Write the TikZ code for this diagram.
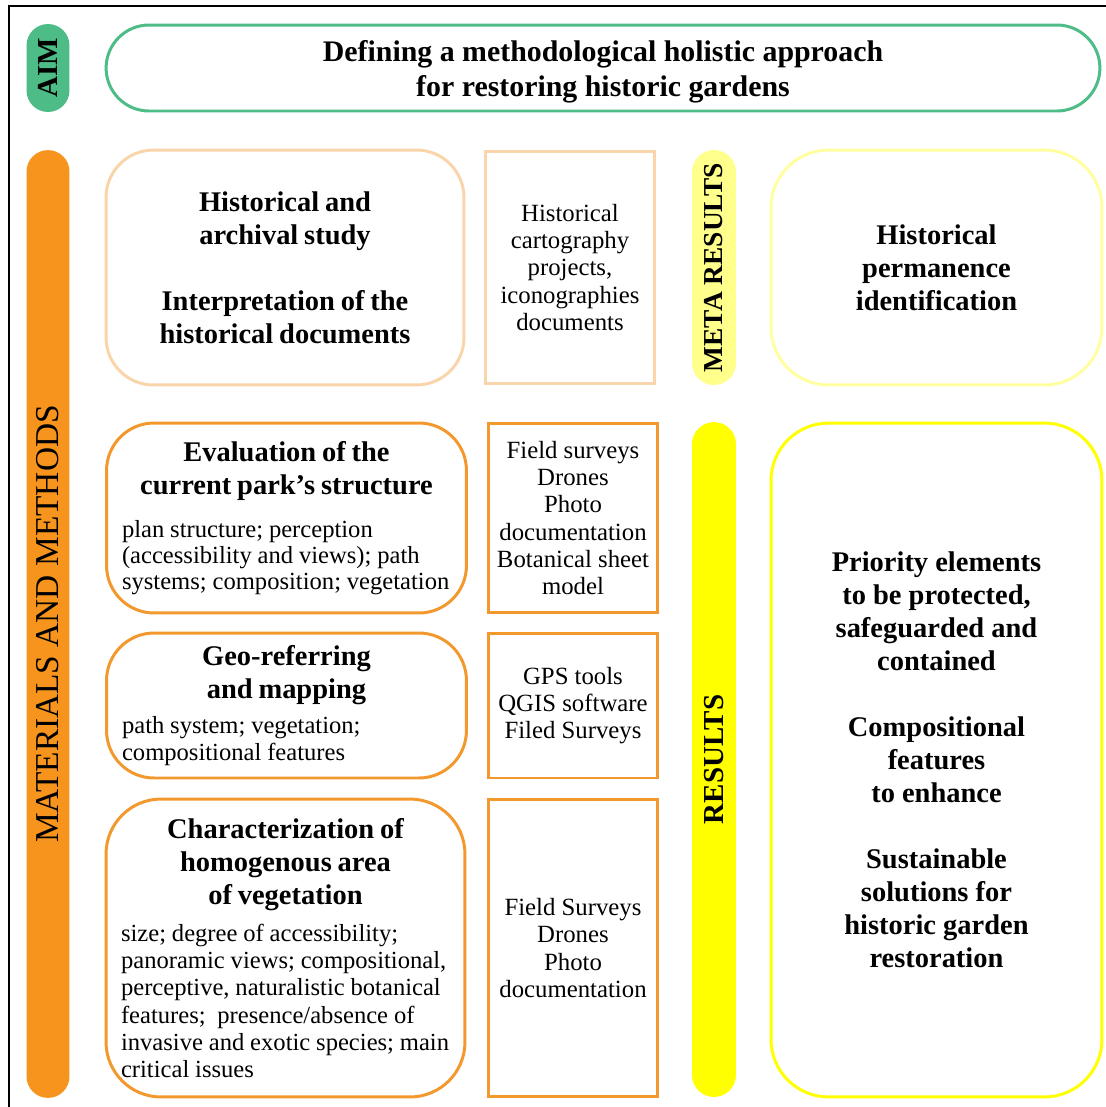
\documentclass[tikz,border=0pt]{standalone}
\usepackage{fontspec}
\setmainfont{Liberation Serif}
\usepackage{xcolor}

\definecolor{aimgreen}{RGB}{77,188,134}
\definecolor{mmorange}{RGB}{247,148,29}
\definecolor{boxorange}{RGB}{243,152,45}
\definecolor{paleorange}{RGB}{250,212,170}
\definecolor{paleyellow}{RGB}{255,255,140}
\definecolor{lightyellow}{RGB}{255,255,160}
\definecolor{resyellow}{RGB}{255,255,0}

\newcommand{\aimfont}{\fontsize{17}{19.9}\selectfont\bfseries}
\newcommand{\ttlfont}{\fontsize{16.2}{18.8}\selectfont\bfseries}
\newcommand{\txtfont}{\fontsize{14}{14.8}\selectfont}
\newcommand{\srcfont}{\fontsize{14.1}{15.4}\selectfont}
\newcommand{\tagfont}{\fontsize{16.5}{18}\selectfont\bfseries}
\newcommand{\mmfont}{\fontsize{19}{20}\selectfont}

\tikzset{
  tag/.style={rotate=90, rounded corners=0.43cm, minimum height=0.86cm, inner sep=0pt, font=\tagfont},
  topic/.style={draw=boxorange, line width=1.7pt, rounded corners=0.95cm, minimum width=7.2cm, inner sep=0pt, text width=6.58cm},
  source/.style={draw=boxorange, line width=1.7pt, minimum width=3.4cm, inner sep=0pt, align=center, font=\srcfont},
  outcome/.style={line width=1.7pt, rounded corners=1.15cm, minimum width=6.62cm, align=center, font=\ttlfont},
}

\begin{document}
\begin{tikzpicture}[x=0.02cm, y=-0.02cm]
\useasboundingbox (0,0) rectangle (1106,1107);
\draw[line width=1.1pt] (9,1107) |- (1106,6);

\node[tag, fill=aimgreen, minimum width=1.76cm] (aimtag) at (48,68) {AIM};
\node[draw=aimgreen, line width=1.7pt, rounded corners=0.86cm, minimum width=19.88cm, minimum height=1.72cm] (aim) at (603,68) {};
\node[align=center, font=\aimfont] (aimtext) at (603,72) {Defining a methodological holistic approach\\for restoring historic gardens};

\node[tag, fill=mmorange, minimum width=18.96cm, font=\mmfont] (mmtag) at (48,624) {MATERIALS AND METHODS};

\node[topic, draw=paleorange, minimum width=7.16cm, minimum height=4.7cm] (hist) at (285,267.5)
  {\centering\ttlfont Historical and\\archival study\\[18.8pt]Interpretation of the\\historical documents\par};
\node[source, draw=paleorange, minimum height=4.66cm] (histsrc) at (570,267.5)
  {Historical\\cartography\\projects,\\iconographies\\documents};

\node[topic, minimum height=3.8cm] (eval) at (286.5,518)
  {{\centering\ttlfont Evaluation of the\\current park’s structure\par}\vspace{9.7pt}
   \raggedright\txtfont plan structure; perception\\(accessibility and views); path\\systems; composition; vegetation\par};
\node[source, minimum height=3.8cm] (evalsrc) at (573,518)
  {Field surveys\\Drones\\Photo\\documentation\\Botanical sheet\\model};

\node[topic, minimum height=2.9cm] (geo) at (286.5,705.5)
  {{\centering\ttlfont Geo-referring\\and mapping\par}\vspace{4.5pt}
   \raggedright\fontsize{14}{15.4}\selectfont path system; vegetation;\\compositional features\par};
\node[source, minimum height=2.9cm] (geosrc) at (573,705.5)
  {GPS tools\\QGIS software\\Filed Surveys};

\node[topic, minimum width=7.18cm, minimum height=5.96cm, rounded corners=1.1cm] (veg) at (285.5,948)
  {{\centering\ttlfont Characterization of\\homogenous area\\of vegetation\par}\vspace{5.7pt}
   \raggedright\fontsize{14}{15.4}\selectfont size; degree of accessibility;\\panoramic views; compositional,\\perceptive, naturalistic botanical\\features;\ \ presence/absence of\\invasive and exotic species; main\\critical issues\par};
\node[source, minimum height=5.96cm] (vegsrc) at (573,948)
  {Field Surveys\\Drones\\Photo\\documentation};

\node[tag, fill=paleyellow, minimum width=4.7cm, minimum height=0.88cm, rounded corners=0.44cm, font=\fontsize{15.6}{18}\selectfont\bfseries] (metatag) at (714,267.5) {META RESULTS};
\node[outcome, draw=lightyellow, minimum height=4.7cm] (meta) at (936.5,267.5)
  {Historical\\permanence\\identification};

\node[tag, fill=resyellow, minimum width=13.5cm, minimum height=0.88cm, rounded corners=0.44cm] (restag) at (714,759.5) {RESULTS};
\node[outcome, draw=resyellow, minimum height=13.48cm] (res) at (936.5,760)
  {Priority elements\\to be protected,\\safeguarded and\\contained\\[18.8pt]Compositional\\features\\to enhance\\[18.8pt]Sustainable\\solutions for\\historic garden\\restoration};
\end{tikzpicture}
\end{document}
